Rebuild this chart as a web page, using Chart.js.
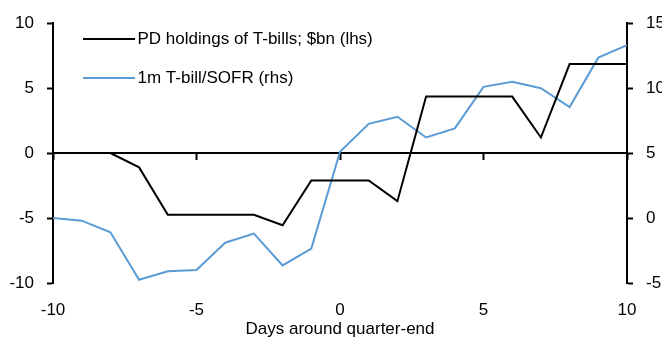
<!DOCTYPE html>
<html>
<head>
<meta charset="utf-8">
<script src="https://cdn.jsdelivr.net/npm/chart.js@4.4.0/dist/chart.umd.min.js"></script>
<style>
  html, body { margin: 0; padding: 0; background: #fff; }
</style>
</head>
<body>
<canvas id="graph" width="662" height="339"></canvas>
<script>
const days = [-10, -9, -8, -7, -6, -5, -4, -3, -2, -1, 0, 1, 2, 3, 4, 5, 6, 7, 8, 9, 10];
// $bn, left axis
const pdHoldings = [0, 0, 0, -1.1, -4.75, -4.75, -4.75, -4.75, -5.55, -2.1, -2.1, -2.1, -3.7, 4.35, 4.35, 4.35, 4.35, 1.2, 6.85, 6.85, 6.85];
// bp, right axis
const billSofr = [0, -0.2, -1.1, -4.75, -4.1, -4.0, -1.9, -1.2, -3.65, -2.35, 5.1, 7.25, 7.8, 6.2, 6.9, 10.1, 10.5, 10.0, 8.55, 12.35, 13.3];

const dayRange = [-10, 10];
const leftRange = [-10, 10];
const rightRange = [-5, 15];
const tickStep = 5;

const black = '#000000';
const blue = 'rgb(91, 155, 213)';

Chart.defaults.font.family = '"Liberation Sans", Arial, sans-serif';
Chart.defaults.font.size = 17;
Chart.defaults.color = black;

function points(ys) {
  return days.map((d, i) => ({ x: d, y: ys[i] }));
}

// short line used as legend marker
function lineSwatch(color) {
  const c = document.createElement('canvas');
  c.width = 58;
  c.height = 4;
  const g = c.getContext('2d');
  g.fillStyle = color;
  g.fillRect(6, 1, 52, 2);
  return c;
}

// keep legend in the top-left corner of the plot
const legendSpot = {
  id: 'legendSpot',
  afterLayout(chart) {
    chart.legend.left = 61;
    chart.legend.top = 8.5;
  }
};

const axisGrid = {
  drawOnChartArea: false,
  drawTicks: true,
  tickLength: 6,
  tickWidth: 2,
  tickColor: black
};
const axisBorder = { display: true, color: black, width: 2 };

const data = {
  datasets: [{
    label: 'PD holdings of T-bills; $bn (lhs)',
    data: points(pdHoldings),
    borderColor: black,
    backgroundColor: black,
    borderWidth: 2,
    pointRadius: 0,
    tension: 0,
    xAxisID: 'x',
    yAxisID: 'y'
  }, {
    label: '1m T-bill/SOFR (rhs)',
    data: points(billSofr),
    borderColor: blue,
    backgroundColor: blue,
    borderWidth: 2,
    pointRadius: 0,
    tension: 0,
    xAxisID: 'x',
    yAxisID: 'y1'
  }]
};

const config = {
  type: 'line',
  data: data,
  plugins: [legendSpot],
  options: {
    responsive: false,
    animation: false,
    layout: { padding: { top: 22, left: 0, right: 0, bottom: 0 } },
    plugins: {
      tooltip: { enabled: false },
      legend: {
        position: 'chartArea',
        align: 'start',
        labels: {
          usePointStyle: true,
          pointStyleWidth: 46,
          padding: 22,
          color: black,
          font: { size: 17 },
          generateLabels(chart) {
            const items = Chart.defaults.plugins.legend.labels.generateLabels(chart);
            items.forEach(it => { it.pointStyle = lineSwatch(it.strokeStyle); });
            return items;
          }
        }
      }
    },
    scales: {
      // axis line through zero with tick marks
      x: {
        type: 'linear',
        position: { y: 0 },
        min: dayRange[0],
        max: dayRange[1],
        ticks: { stepSize: tickStep, display: false },
        grid: axisGrid,
        border: axisBorder
      },
      // day labels and title along the bottom
      x2: {
        type: 'linear',
        position: 'bottom',
        min: dayRange[0],
        max: dayRange[1],
        ticks: { stepSize: tickStep, padding: 17, color: black, font: { size: 17 } },
        grid: { display: false, drawTicks: false },
        border: { display: false },
        title: {
          display: true,
          text: 'Days around quarter-end',
          color: black,
          font: { size: 17 },
          padding: { top: 0, bottom: -1 }
        },
        afterFit(scale) { scale.height = 56; }
      },
      y: {
        position: 'left',
        min: leftRange[0],
        max: leftRange[1],
        ticks: { stepSize: tickStep, padding: 13, color: black, font: { size: 17 } },
        grid: axisGrid,
        border: axisBorder,
        afterFit(scale) { scale.width = 53; }
      },
      y1: {
        position: 'right',
        min: rightRange[0],
        max: rightRange[1],
        ticks: { stepSize: tickStep, padding: 13, color: black, font: { size: 17 } },
        grid: axisGrid,
        border: axisBorder,
        afterFit(scale) { scale.width = 35; }
      }
    }
  }
};

const myChart = new Chart(document.getElementById('graph'), config);
</script>
</body>
</html>
